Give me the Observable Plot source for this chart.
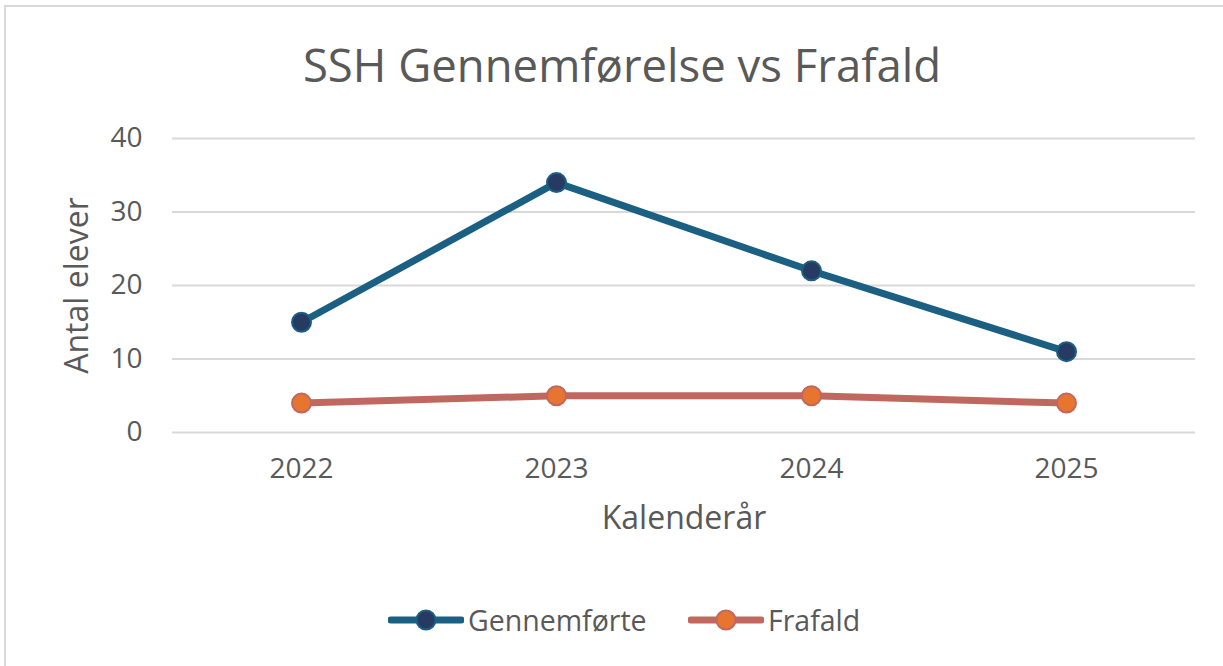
<!DOCTYPE html>
<html>
<head>
<meta charset="utf-8">
<script src="https://cdn.jsdelivr.net/npm/d3@7"></script>
<script src="https://cdn.jsdelivr.net/npm/@observablehq/plot@0.6"></script>
<style>
  html, body { margin: 0; padding: 0; background: #fff; width: 1223px; height: 666px; overflow: hidden; }
  #frame { position: absolute; left: 4px; top: 5px; width: 1260px; height: 700px; border: 2px solid #d9d9d9; box-sizing: border-box; }
  #title { position: absolute; left: 0; width: 1244px; top: 35px; text-align: center; font-family: "Open Sans", "Noto Sans", sans-serif; font-size: 45.5px; color: #595959; line-height: 58px; }
  #chart { position: absolute; left: 0; top: 100px; }
  #legend { position: absolute; top: 604px; left: 0; width: 1223px; font-family: "Open Sans", "Noto Sans", sans-serif; font-size: 28.5px; color: #595959; }
  .item { position: absolute; display: flex; align-items: center; height: 32px; }
  .item svg { margin-right: 4px; }
</style>
</head>
<body>
<div id="frame"></div>
<div id="title">SSH Gennemførelse vs Frafald</div>
<div id="chart"></div>
<div id="legend"></div>
<script>
const years = ["2022", "2023", "2024", "2025"];
const gennemforte = [15, 34, 22, 11];
const frafald = [4, 5, 5, 4];
const seriesNames = ["Gennemførte", "Frafald"];
const yTicks = [0, 10, 20, 30, 40];

const lineColors = ["#1b5f82", "#c0685f"];
const markerFills = ["#273b62", "#e8752f"];

const data = [];
years.forEach((y, i) => {
  data.push({year: y, value: gennemforte[i], series: seriesNames[0]});
  data.push({year: y, value: frafald[i], series: seriesNames[1]});
});

const W = 1223, H = 460;
const chart = Plot.plot({
  width: W,
  height: H,
  marginLeft: 172,
  marginRight: 28,
  marginTop: 38,
  marginBottom: 128,
  style: { fontFamily: "'Open Sans', 'Noto Sans', sans-serif", fontSize: "28px", color: "#595959", background: "transparent", overflow: "visible" },
  x: { type: "point", domain: years, padding: 0.5, label: "Kalenderår", labelAnchor: "center", labelArrow: "none" },
  y: { domain: [0, 40], ticks: yTicks, label: "Antal elever", labelAnchor: "center", labelArrow: "none" },
  color: { domain: seriesNames, range: lineColors },
  marks: [
    Plot.gridY(yTicks, { stroke: "#d9d9d9", strokeOpacity: 1, strokeWidth: 2 }),
    Plot.axisY(yTicks, { tickSize: 0, tickPadding: 30, fontSize: 28, label: null }),
    Plot.axisY(yTicks, { tickSize: 0, text: null, fontSize: 32, label: "Antal elever", labelAnchor: "center", labelArrow: "none", labelOffset: 107 }),
    Plot.axisX(years, { tickSize: 0, tickPadding: 26, fontSize: 28, label: null }),
    Plot.axisX(years, { tickSize: 0, text: null, fontSize: 32, label: "Kalenderår", labelAnchor: "center", labelArrow: "none", labelOffset: 96 }),
    Plot.line(data, { x: "year", y: "value", z: "series", stroke: "series", strokeWidth: 7, strokeLinejoin: "round", strokeLinecap: "round" }),
    Plot.dot(data, { x: "year", y: "value", r: 9.5, fill: d => markerFills[seriesNames.indexOf(d.series)], stroke: "series", strokeWidth: 2 })
  ]
});
document.getElementById("chart").appendChild(chart);

// Legend
const legend = document.getElementById("legend");
const positions = [388, 688];
seriesNames.forEach((name, i) => {
  const item = document.createElement("div");
  item.className = "item";
  item.style.left = positions[i] + "px";
  item.innerHTML = `<svg width="76" height="24"><line x1="3" y1="12" x2="73" y2="12" stroke="${lineColors[i]}" stroke-width="7" stroke-linecap="round"/><circle cx="38" cy="12" r="9.5" fill="${markerFills[i]}" stroke="${lineColors[i]}" stroke-width="2"/></svg><span>${name}</span>`;
  legend.appendChild(item);
});
</script>
</body>
</html>
